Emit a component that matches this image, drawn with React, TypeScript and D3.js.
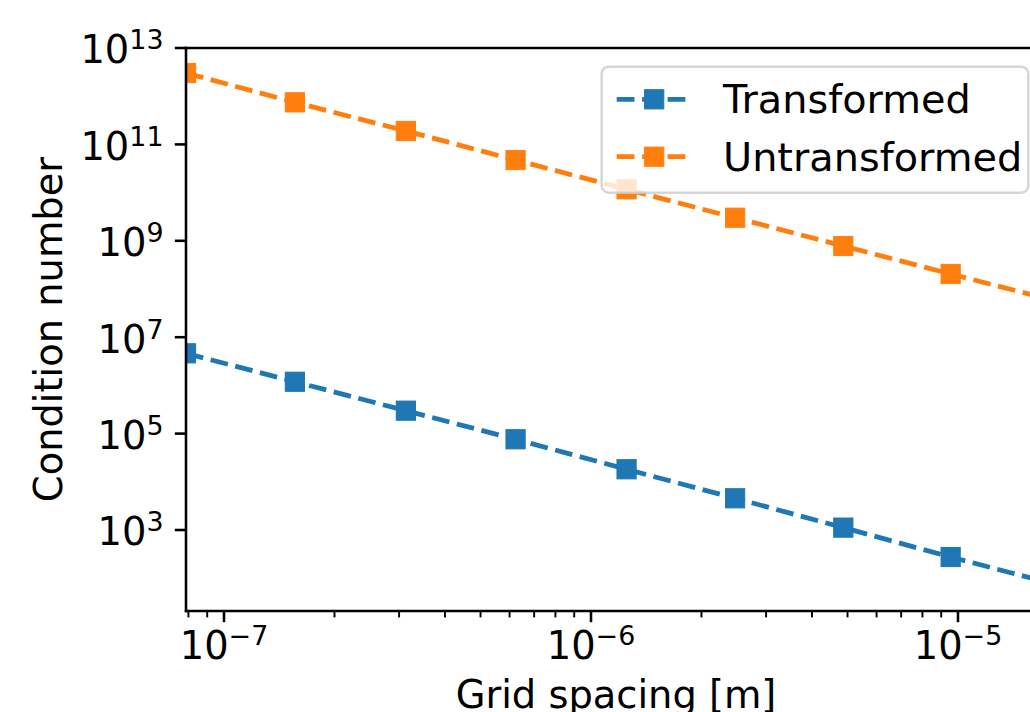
import React from "react";
import * as d3 from "d3";

// ---- data ----
const gridSpacing = [7.88e-8, 1.56e-7, 3.13e-7, 6.23e-7, 1.25e-6, 2.47e-6, 4.87e-6, 9.55e-6, 1.91e-5];
const transformed = [4.63e6, 1.19e6, 2.99e5, 7.62e4, 1.82e4, 4.55e3, 1.12e3, 275, 69];
const untransformed = [3.03e12, 7.46e11, 1.9e11, 4.74e10, 1.17e10, 3.01e9, 7.8e8, 2.05e8, 5.3e7];

const seriesNames = ["Transformed", "Untransformed"];
const seriesColors = ["#1f77b4", "#ff7f0e"];

const xTickExponents = [-7, -6, -5];
const xTickLabels = ["−7", "−6", "−5"];
const yTickExponents = [3, 5, 7, 9, 11, 13];
const yTickLabels = ["3", "5", "7", "9", "11", "13"];

const xLabel = "Grid spacing [m]";
const yLabel = "Condition number";

// ---- layout ----
const W = 1030;
const H = 712;
const left = 186;
const right = 1046;
const top = 48;
const bottom = 611;
const FONT = "DejaVu Sans";
const FS = 38.4;
const LFS = 39.8;
const SUP = FS * 0.7;
const PT = 3.2;

export default function App() {
  const x = d3.scaleLog().domain([1e-7, 1e-5]).range([224, 958]);
  const y = d3.scaleLog().domain([1e3, 1e13]).range([530, 48]);

  const xMinor: number[] = [];
  for (let e = -8; e <= -5; e++) {
    for (let m = 2; m <= 9; m++) {
      const v = m * Math.pow(10, e);
      const px = x(v);
      if (px >= left - 0.5 && px <= right) xMinor.push(v);
    }
  }

  const series = [transformed, untransformed].map((vals, i) => ({
    name: seriesNames[i],
    color: seriesColors[i],
    pts: vals.map((v, j) => ({ h: gridSpacing[j], v })),
  }));

  const line = d3
    .line<{ h: number; v: number }>()
    .x((d) => x(d.h))
    .y((d) => y(d.v));

  const lw = 1.5 * PT;
  const dash = `${3.7 * lw} ${1.6 * lw}`;
  const ms = 6 * PT;

  const legX = 601.7;
  const legY = 66.7;
  const legW = 426.6;
  const legH = 126;
  const rowY = [99.3, 156.7];
  const handleX0 = 616.7;
  const handleX1 = 691.7;

  return (
    <svg
      width={W}
      height={H}
      style={{ position: "absolute", left: 0, top: 0, display: "block", background: "#fff" }}
      fontFamily={FONT}
    >
      <defs>
        <clipPath id="axclip">
          <rect x={left} y={top} width={right - left} height={bottom - top} />
        </clipPath>
      </defs>
      <rect x={0} y={0} width={W} height={H} fill="#fff" />

      {/* series */}
      <g clipPath="url(#axclip)">
        {series.map((s) => (
          <g key={s.name}>
            <path
              d={line(s.pts) || ""}
              fill="none"
              stroke={s.color}
              strokeWidth={lw}
              strokeDasharray={dash}
            />
            {s.pts.map((p, j) => (
              <rect
                key={j}
                x={x(p.h) - ms / 2}
                y={y(p.v) - ms / 2}
                width={ms}
                height={ms}
                fill={s.color}
                stroke={s.color}
                strokeWidth={1}
              />
            ))}
          </g>
        ))}
      </g>

      {/* spines */}
      <g stroke="#000" strokeWidth={0.8 * PT} fill="none" strokeLinecap="square">
        <line x1={left} y1={top} x2={left} y2={bottom} />
        <line x1={left} y1={bottom} x2={right} y2={bottom} />
        <line x1={left} y1={top} x2={right} y2={top} />
        <line x1={right} y1={top} x2={right} y2={bottom} />
      </g>

      {/* x ticks */}
      {xMinor.map((v, i) => (
        <line key={"xm" + i} x1={x(v)} x2={x(v)} y1={bottom} y2={bottom + 2 * PT} stroke="#000" strokeWidth={0.6 * PT} />
      ))}
      {xTickExponents.map((e, i) => {
        const px = x(Math.pow(10, e));
        return (
          <g key={"xt" + e}>
            <line x1={px} x2={px} y1={bottom} y2={bottom + 3.5 * PT} stroke="#000" strokeWidth={0.8 * PT} />
            <text x={px} y={658.5} textAnchor="middle" fontSize={FS} fill="#000">
              10
              <tspan fontSize={SUP} dy={-13.5}>
                {xTickLabels[i]}
              </tspan>
            </text>
          </g>
        );
      })}

      {/* y ticks */}
      {yTickExponents.map((e, i) => {
        const py = y(Math.pow(10, e));
        return (
          <g key={"yt" + e}>
            <line x1={left - 3.5 * PT} x2={left} y1={py} y2={py} stroke="#000" strokeWidth={0.8 * PT} />
            <text x={163.5} y={py + 15.3} textAnchor="end" fontSize={FS} fill="#000">
              10
              <tspan fontSize={SUP} dy={-14}>
                {yTickLabels[i]}
              </tspan>
            </text>
          </g>
        );
      })}

      {/* axis labels */}
      <text x={(left + right) / 2} y={708} textAnchor="middle" fontSize={FS} fill="#000">
        {xLabel}
      </text>
      <text
        transform={`translate(61.7, ${(top + bottom) / 2}) rotate(-90)`}
        textAnchor="middle"
        fontSize={FS}
        fill="#000"
      >
        {yLabel}
      </text>

      {/* legend */}
      <rect
        x={legX}
        y={legY}
        width={legW}
        height={legH}
        rx={7}
        ry={7}
        fill="#fff"
        fillOpacity={0.8}
        stroke="#cccccc"
        strokeOpacity={0.8}
        strokeWidth={2.5}
      />
      {series.map((s, i) => (
        <g key={"leg" + i}>
          <line
            x1={handleX0}
            x2={handleX1}
            y1={rowY[i]}
            y2={rowY[i]}
            stroke={s.color}
            strokeWidth={lw}
            strokeDasharray={dash}
          />
          <rect
            x={(handleX0 + handleX1) / 2 - ms / 2}
            y={rowY[i] - ms / 2}
            width={ms}
            height={ms}
            fill={s.color}
            stroke={s.color}
            strokeWidth={1}
          />
          <text x={723} y={rowY[i] + 13.8} fontSize={LFS} fill="#000">
            {s.name}
          </text>
        </g>
      ))}
    </svg>
  );
}
